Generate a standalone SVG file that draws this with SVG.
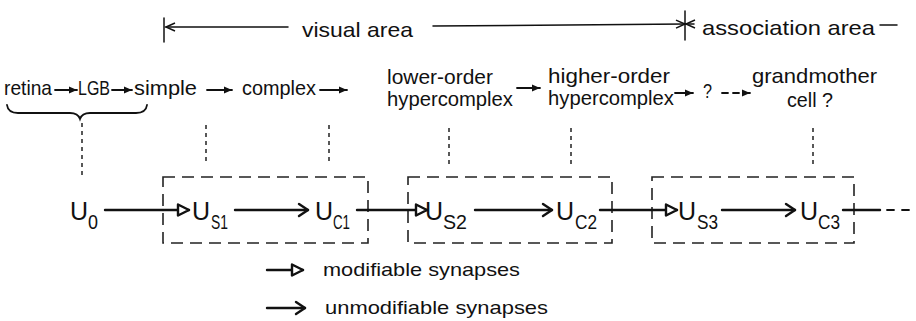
<svg xmlns="http://www.w3.org/2000/svg" width="916" height="321" viewBox="0 0 916 321">
<style>
text{font-family:"Liberation Sans","DejaVu Sans",sans-serif;fill:#111}
.t{font-size:21px}
.u{font-size:25px}
.s{font-size:20px}
.lg{font-size:19px}
.ln{stroke:#111;fill:none;stroke-linecap:round}
.main{stroke-width:2.4}
.thin{stroke-width:1.8}
.hair{stroke-width:1.5}
.box{stroke:#222;fill:none;stroke-width:1.6;stroke-dasharray:12 7}
.dot{stroke:#222;stroke-width:1.5;stroke-dasharray:4 4;fill:none}
.dash{stroke-dasharray:6 5}
</style>
<defs>
<marker id="tri" markerUnits="userSpaceOnUse" markerWidth="18" markerHeight="18" viewBox="-14 -9 18 18" refX="0" refY="0" orient="auto">
<path d="M-11,-5.5 L0,0 L-11,5.5 Z" fill="#fff" stroke="#111" stroke-width="2.4" stroke-linejoin="round"/>
</marker>
<marker id="vee" markerUnits="userSpaceOnUse" markerWidth="18" markerHeight="18" viewBox="-14 -9 18 18" refX="0" refY="0" orient="auto">
<path d="M-9,-6 L0,0 L-9,6" fill="none" stroke="#111" stroke-width="2.4" stroke-linejoin="round" stroke-linecap="round"/>
</marker>
<marker id="sm" markerUnits="userSpaceOnUse" markerWidth="14" markerHeight="14" viewBox="-11 -7 14 14" refX="0" refY="0" orient="auto">
<path d="M-8,-3.5 L0,0 L-8,3.5 Z" fill="#111"/>
</marker>
<marker id="tv" markerUnits="userSpaceOnUse" markerWidth="14" markerHeight="14" viewBox="-11 -7 14 14" refX="0" refY="0" orient="auto">
<path d="M-9,-4 L0,0 L-9,4" fill="none" stroke="#111" stroke-width="1.5"/>
</marker>
</defs>

<g id="area-bar">
<path class="ln hair" d="M164,18 L164,42"/>
<path class="ln hair" d="M288,27 L166,27" marker-end="url(#tv)"/>
<text class="t" x="302" y="37" textLength="111" lengthAdjust="spacingAndGlyphs">visual area</text>
<path class="ln hair" d="M433,26 L685,24" marker-end="url(#tv)"/>
<path class="ln hair" d="M685,11 L685,40"/>
<path class="ln hair" d="M694,24 L686,24" marker-end="url(#tv)"/>
<text class="t" x="702" y="35" textLength="173" lengthAdjust="spacingAndGlyphs">association area</text>
<path class="ln hair" d="M880,25 L897,25"/>
</g>

<g id="retina"><text class="t" x="4" y="95" textLength="48" lengthAdjust="spacingAndGlyphs">retina</text></g>
<g id="lgb"><text class="t" x="78" y="95" textLength="32" lengthAdjust="spacingAndGlyphs">LGB</text></g>
<g id="simple"><text class="t" x="134" y="95" textLength="63" lengthAdjust="spacingAndGlyphs">simple</text></g>
<g id="complex"><text class="t" x="242" y="95" textLength="74" lengthAdjust="spacingAndGlyphs">complex</text></g>
<g id="lower-hypercomplex">
<text class="t" x="387" y="84" textLength="106" lengthAdjust="spacingAndGlyphs">lower-order</text>
<text class="t" x="387" y="106" textLength="126" lengthAdjust="spacingAndGlyphs">hypercomplex</text>
</g>
<g id="higher-hypercomplex">
<text class="t" x="548" y="83" textLength="122" lengthAdjust="spacingAndGlyphs">higher-order</text>
<text class="t" x="548" y="105" textLength="126" lengthAdjust="spacingAndGlyphs">hypercomplex</text>
</g>
<g id="unknown"><text class="t" x="703" y="98" textLength="9" lengthAdjust="spacingAndGlyphs">?</text></g>
<g id="grandmother">
<text class="t" x="752" y="83" textLength="125" lengthAdjust="spacingAndGlyphs">grandmother</text>
<text class="t" x="787" y="107" textLength="46" lengthAdjust="spacingAndGlyphs">cell ?</text>
</g>

<g id="brace">
<path class="ln thin" d="M7,105 Q8,113 18,113 L70,113 Q78,113 80,119 Q82,113 90,113 L136,113 Q146,113 147,105"/>
</g>

<g id="correspondence">
<path class="dot" d="M82,123 L82,178"/>
<path class="dot" d="M206,125 L206,164"/>
<path class="dot" d="M329,125 L329,164"/>
<path class="dot" d="M449,128 L449,164"/>
<path class="dot" d="M571,128 L571,164"/>
<path class="dot" d="M813,128 L813,166"/>
</g>

<g id="stage1"><rect class="box" x="163" y="177" width="205" height="66"/></g>
<g id="stage2"><rect class="box" x="408" y="177" width="204" height="66"/></g>
<g id="stage3"><rect class="box" x="652" y="177" width="202" height="66"/></g>

<g id="U0"><text class="u" x="70" y="220">U</text><text class="s" x="88" y="229" textLength="10" lengthAdjust="spacingAndGlyphs">0</text></g>
<g id="US1"><text class="u" x="192" y="220">U</text><text class="s" x="211" y="229" textLength="17" lengthAdjust="spacingAndGlyphs">S1</text></g>
<g id="UC1"><text class="u" x="315" y="220">U</text><text class="s" x="333" y="229" textLength="17" lengthAdjust="spacingAndGlyphs">C1</text></g>
<g id="US2"><text class="u" x="425" y="220">U</text><text class="s" x="443" y="229" textLength="24" lengthAdjust="spacingAndGlyphs">S2</text></g>
<g id="UC2"><text class="u" x="556" y="220">U</text><text class="s" x="575" y="229" textLength="22" lengthAdjust="spacingAndGlyphs">C2</text></g>
<g id="US3"><text class="u" x="678" y="220">U</text><text class="s" x="697" y="229" textLength="21" lengthAdjust="spacingAndGlyphs">S3</text></g>
<g id="UC3"><text class="u" x="800" y="220">U</text><text class="s" x="818" y="229" textLength="22" lengthAdjust="spacingAndGlyphs">C3</text></g>

<g id="connectors">
<path class="ln thin" d="M55,90 L77,90" marker-end="url(#sm)"/>
<path class="ln thin" d="M112,90 L132,90" marker-end="url(#sm)"/>
<path class="ln thin" d="M207,90 L232,90" marker-end="url(#sm)"/>
<path class="ln thin" d="M320,90 L347,90" marker-end="url(#sm)"/>
<path class="ln thin" d="M517,88 L540,88" marker-end="url(#sm)"/>
<path class="ln thin" d="M675,93 L693,93" marker-end="url(#sm)"/>
<path class="ln thin dash" d="M722,93 L750,93" marker-end="url(#sm)"/>
<path class="ln main" d="M105,210 L189,210" marker-end="url(#tri)"/>
<path class="ln main" d="M235,210 L308,210" marker-end="url(#vee)"/>
<path class="ln main" d="M357,210 L427,210" marker-end="url(#tri)"/>
<path class="ln main" d="M475,210 L552,210" marker-end="url(#vee)"/>
<path class="ln main" d="M600,210 L677,210" marker-end="url(#tri)"/>
<path class="ln main" d="M722,210 L795,210" marker-end="url(#vee)"/>
<path class="ln main" d="M843,210 L880,210"/>
<path class="ln thin" d="M887,210 L916,210" stroke-dasharray="7 8"/>
</g>

<g id="legend">
<path class="ln main" d="M267,270 L303,270" marker-end="url(#tri)"/>
<text class="lg" x="323" y="276" textLength="197" lengthAdjust="spacingAndGlyphs">modifiable synapses</text>
<path class="ln main" d="M267,308 L305,308" marker-end="url(#vee)"/>
<text class="lg" x="325" y="314" textLength="223" lengthAdjust="spacingAndGlyphs">unmodifiable synapses</text>
</g>
</svg>
